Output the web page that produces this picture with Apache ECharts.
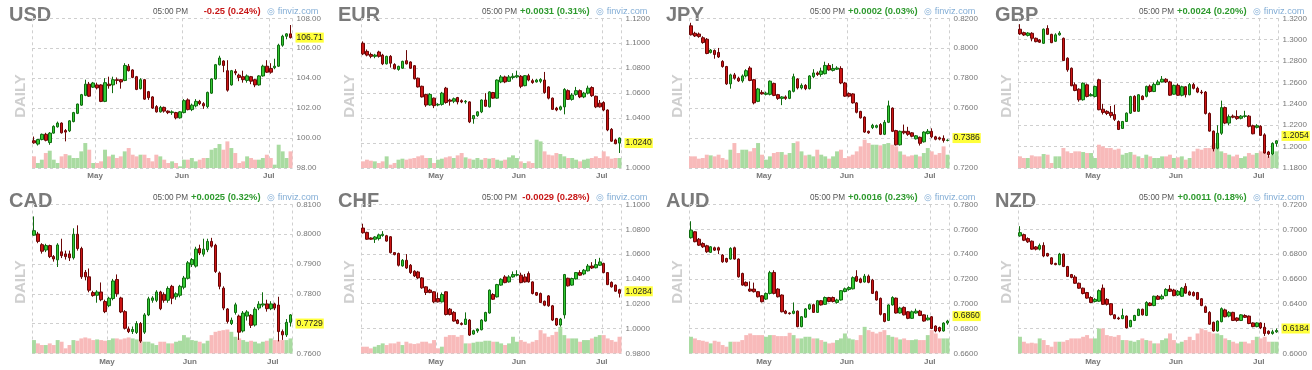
<!DOCTYPE html>
<html><head><meta charset="utf-8">
<script src="https://cdn.jsdelivr.net/npm/echarts@6/dist/echarts.min.js"></script>
<style>html,body{margin:0;padding:0;background:#fff}#c{width:1312px;height:370px}</style>
</head><body><div id="c"></div>
<script>
// ---------- categories (trading days, MM-DD) ----------
const datesUSD = ['04-08','04-11','04-12','04-13','04-14','04-15','04-18','04-19','04-20','04-21','04-22','04-25','04-26','04-27','04-28','04-29',
'05-02','05-03','05-04','05-05','05-06','05-09','05-10','05-11','05-12','05-13','05-16','05-17','05-18','05-19','05-20','05-23','05-24','05-25','05-26','05-27','05-30','05-31',
'06-01','06-02','06-03','06-06','06-07','06-08','06-09','06-10','06-13','06-14','06-15','06-16','06-17','06-20','06-21','06-22','06-23','06-24','06-27','06-28','06-29','06-30',
'07-01','07-04','07-05','07-06','07-07','07-08'];
const datesFX = ['04-04','04-05','04-06','04-07','04-08','04-11','04-12','04-13','04-14','04-18','04-19','04-20','04-21','04-22','04-25','04-26','04-27','04-28','04-29',
'05-02','05-03','05-04','05-05','05-06','05-09','05-10','05-11','05-12','05-13','05-16','05-17','05-18','05-19','05-20','05-23','05-24','05-25','05-26','05-27','05-31',
'06-01','06-02','06-03','06-06','06-07','06-08','06-09','06-10','06-13','06-14','06-15','06-16','06-17','06-21','06-22','06-23','06-24','06-27','06-28','06-29','06-30',
'07-01','07-05','07-06','07-07','07-08'];
const monthNames = {'05':'May','06':'Jun','07':'Jul'};

// ---------- candles: [open, close, low, high] ----------
const usdCandles = [[99.82,99.68,99.62,100.10],[99.60,99.90,99.50,99.95],[99.90,100.25,99.85,100.30],[100.25,99.85,99.78,100.35],[99.70,100.33,99.55,100.40],[100.33,100.78,100.30,100.85],[100.75,101.00,100.70,101.10],[101.00,100.35,100.30,101.05],[100.50,100.40,99.78,100.60],[100.48,101.15,100.40,101.20],
[101.10,101.70,101.05,101.75],[101.65,102.27,101.60,102.30],[102.20,102.90,102.15,102.95],[102.85,103.60,102.80,103.90],[103.60,102.80,102.75,103.75],[103.40,103.68,103.35,103.75],[103.55,103.35,103.25,103.70],[103.55,102.45,102.40,103.60],[102.45,103.70,102.40,104.00],[103.60,103.50,103.30,104.10],
[103.55,103.90,103.00,104.10],[103.90,103.85,103.60,104.05],[103.90,103.75,103.30,103.95],[103.85,104.85,103.80,105.00],[104.80,104.50,104.45,104.95],[104.55,104.05,104.00,104.60],[104.10,103.25,103.20,104.15],[103.30,103.90,103.25,104.00],[103.90,102.60,102.55,103.95],[103.10,102.70,102.55,103.15],
[102.75,102.00,101.95,102.80],[102.10,101.75,101.70,102.20],[101.75,102.05,101.70,102.15],[102.05,101.80,101.70,102.10],[101.80,101.70,101.60,101.85],[101.70,101.75,101.55,101.85],[101.70,101.35,101.25,101.75],[101.35,101.75,101.30,101.80],[101.70,102.50,101.65,102.60],[102.55,101.90,101.85,102.65],
[101.90,102.20,101.80,102.30],[102.15,102.45,102.05,102.60],[102.45,102.30,102.20,102.55],[102.30,102.15,101.95,102.40],[102.10,103.05,102.00,103.10],[103.00,103.95,102.95,104.00],[103.95,104.90,103.90,104.95],[104.90,105.35,104.85,105.50],[105.15,104.85,104.40,105.20],[104.50,103.20,103.10,105.20],
[103.55,104.50,103.50,104.55],[104.45,104.35,104.20,104.60],[104.20,104.05,103.80,104.30],[104.10,103.90,103.70,104.50],[103.85,104.15,103.70,104.25],[104.10,103.80,103.60,104.15],[103.90,103.55,103.40,103.95],[103.55,104.15,103.50,104.20],[104.15,104.80,104.10,104.90],[104.80,104.40,104.35,105.20],
[104.65,104.40,104.30,105.00],[104.70,104.80,104.60,105.30],[104.80,106.20,104.75,106.30],[106.20,106.80,106.10,106.90],[106.80,106.96,106.60,107.00],[106.96,106.71,106.65,107.55]];
const eurCandles = [[1.1000,1.0915,1.0905,1.1015],[1.0935,1.0905,1.0895,1.0950],[1.0910,1.0895,1.0880,1.0925],[1.0895,1.0905,1.0880,1.0915],[1.0930,1.0895,1.0885,1.0940],[1.0905,1.0835,1.0825,1.0915],[1.0835,1.0895,1.0830,1.0900],[1.0895,1.0840,1.0805,1.0905],[1.0830,1.0795,1.0790,1.0840],[1.0790,1.0815,1.0780,1.0820],
[1.0800,1.0855,1.0795,1.0860],[1.0860,1.0835,1.0830,1.0945],[1.0850,1.0800,1.0795,1.0855],[1.0820,1.0715,1.0710,1.0825],[1.0720,1.0650,1.0645,1.0725],[1.0655,1.0570,1.0565,1.0660],[1.0590,1.0505,1.0490,1.0595],[1.0505,1.0590,1.0500,1.0600],[1.0560,1.0500,1.0480,1.0565],[1.0505,1.0510,1.0495,1.0520],
[1.0510,1.0600,1.0500,1.0610],[1.0640,1.0525,1.0515,1.0650],[1.0545,1.0535,1.0500,1.0555],[1.0535,1.0555,1.0520,1.0565],[1.0565,1.0530,1.0510,1.0570],[1.0540,1.0530,1.0520,1.0550],[1.0530,1.0535,1.0515,1.0545],[1.0530,1.0370,1.0360,1.0535],[1.0395,1.0420,1.0355,1.0425],[1.0420,1.0450,1.0410,1.0455],
[1.0450,1.0545,1.0440,1.0550],[1.0545,1.0495,1.0490,1.0600],[1.0490,1.0610,1.0485,1.0615],[1.0605,1.0560,1.0555,1.0610],[1.0560,1.0705,1.0555,1.0710],[1.0690,1.0730,1.0680,1.0745],[1.0730,1.0690,1.0680,1.0740],[1.0695,1.0730,1.0690,1.0745],[1.0725,1.0735,1.0710,1.0760],[1.0730,1.0740,1.0720,1.0780],
[1.0735,1.0655,1.0640,1.0745],[1.0660,1.0740,1.0655,1.0745],[1.0740,1.0705,1.0695,1.0755],[1.0700,1.0685,1.0675,1.0715],[1.0690,1.0705,1.0685,1.0715],[1.0695,1.0710,1.0680,1.0720],[1.0705,1.0605,1.0595,1.0770],[1.0650,1.0560,1.0550,1.0655],[1.0560,1.0470,1.0465,1.0565],[1.0480,1.0465,1.0455,1.0490],
[1.0470,1.0490,1.0460,1.0500],[1.0490,1.0630,1.0430,1.0640],[1.0620,1.0550,1.0545,1.0630],[1.0550,1.0585,1.0540,1.0600],[1.0590,1.0620,1.0580,1.0650],[1.0620,1.0570,1.0560,1.0630],[1.0570,1.0600,1.0560,1.0610],[1.0600,1.0640,1.0590,1.0660],[1.0645,1.0580,1.0570,1.0655],[1.0575,1.0490,1.0480,1.0580],
[1.0520,1.0490,1.0485,1.0545],[1.0525,1.0465,1.0455,1.0535],[1.0465,1.0305,1.0295,1.0470],[1.0310,1.0215,1.0210,1.0320],[1.0225,1.0195,1.0190,1.0235],[1.0200,1.0240,1.0120,1.0245]];
const jpyCandles = [[0.8150,0.8090,0.8085,0.8170],[0.8100,0.8082,0.8075,0.8110],[0.8095,0.8078,0.8070,0.8105],[0.8070,0.8038,0.8030,0.8080],[0.8060,0.7965,0.7960,0.8068],[0.7972,0.7988,0.7965,0.7995],[0.7985,0.7958,0.7930,0.7992],[0.7972,0.7942,0.7935,0.8002],[0.7912,0.7878,0.7870,0.7920],[0.7878,0.7762,0.7755,0.7882],
[0.7762,0.7822,0.7730,0.7830],[0.7822,0.7800,0.7790,0.7835],[0.7800,0.7782,0.7775,0.7810],[0.7782,0.7815,0.7770,0.7825],[0.7815,0.7850,0.7805,0.7860],[0.7868,0.7785,0.7780,0.7880],[0.7790,0.7635,0.7625,0.7795],[0.7645,0.7728,0.7640,0.7735],[0.7705,0.7695,0.7690,0.7720],[0.7692,0.7700,0.7685,0.7710],
[0.7692,0.7780,0.7685,0.7785],[0.7765,0.7685,0.7680,0.7770],[0.7690,0.7665,0.7655,0.7695],[0.7665,0.7675,0.7620,0.7680],[0.7675,0.7665,0.7655,0.7685],[0.7665,0.7715,0.7660,0.7720],[0.7712,0.7810,0.7705,0.7830],[0.7795,0.7735,0.7725,0.7800],[0.7735,0.7752,0.7725,0.7765],[0.7752,0.7730,0.7720,0.7760],
[0.7730,0.7815,0.7725,0.7820],[0.7810,0.7835,0.7800,0.7860],[0.7835,0.7825,0.7815,0.7845],[0.7825,0.7848,0.7810,0.7870],[0.7830,0.7885,0.7825,0.7910],[0.7885,0.7855,0.7850,0.7900],[0.7852,0.7865,0.7845,0.7895],[0.7860,0.7868,0.7855,0.7880],[0.7865,0.7768,0.7760,0.7880],[0.7768,0.7680,0.7675,0.7775],
[0.7698,0.7680,0.7672,0.7705],[0.7695,0.7635,0.7630,0.7700],[0.7635,0.7572,0.7565,0.7640],[0.7578,0.7535,0.7530,0.7582],[0.7540,0.7440,0.7435,0.7545],[0.7445,0.7435,0.7428,0.7450],[0.7470,0.7485,0.7460,0.7495],[0.7472,0.7483,0.7465,0.7490],[0.7490,0.7425,0.7420,0.7500],[0.7425,0.7505,0.7420,0.7520],
[0.7505,0.7615,0.7500,0.7650],[0.7600,0.7445,0.7440,0.7605],[0.7450,0.7355,0.7350,0.7455],[0.7355,0.7445,0.7350,0.7450],[0.7445,0.7435,0.7425,0.7490],[0.7445,0.7425,0.7415,0.7475],[0.7435,0.7412,0.7405,0.7440],[0.7395,0.7415,0.7390,0.7420],[0.7405,0.7365,0.7350,0.7410],[0.7375,0.7440,0.7370,0.7445],
[0.7430,0.7445,0.7425,0.7460],[0.7445,0.7408,0.7400,0.7465],[0.7408,0.7392,0.7385,0.7415],[0.7402,0.7393,0.7385,0.7410],[0.7398,0.7384,0.7370,0.7418],[0.7384,0.7386,0.7378,0.7392]];
const gbpCandles = [[1.3098,1.3054,1.3045,1.3145],[1.3066,1.3044,1.3035,1.3075],[1.3040,1.3062,1.3030,1.3070],[1.3060,1.3013,1.2985,1.3070],[1.3013,1.2982,1.2975,1.3020],[1.2998,1.2976,1.2970,1.3005],[1.2966,1.3098,1.2960,1.3105],[1.3105,1.3050,1.3045,1.3135],[1.3050,1.2972,1.2968,1.3055],[1.2985,1.3045,1.2978,1.3060],
[1.3045,1.3062,1.3038,1.3080],[1.3013,1.2805,1.2800,1.3020],[1.2827,1.2718,1.2700,1.2835],[1.2733,1.2569,1.2565,1.2740],[1.2578,1.2525,1.2518,1.2600],[1.2537,1.2438,1.2420,1.2545],[1.2438,1.2593,1.2430,1.2600],[1.2578,1.2469,1.2460,1.2590],[1.2475,1.2486,1.2470,1.2500],[1.2469,1.2563,1.2460,1.2570],
[1.2625,1.2345,1.2340,1.2635],[1.2350,1.2320,1.2300,1.2400],[1.2330,1.2310,1.2295,1.2340],[1.2320,1.2290,1.2270,1.2380],[1.2300,1.2255,1.2240,1.2390],[1.2235,1.2160,1.2155,1.2245],[1.2170,1.2235,1.2165,1.2240],[1.2235,1.2313,1.2230,1.2320],[1.2313,1.2468,1.2305,1.2475],[1.2470,1.2330,1.2325,1.2480],
[1.2330,1.2485,1.2325,1.2490],[1.2472,1.2440,1.2435,1.2480],[1.2470,1.2563,1.2460,1.2570],[1.2565,1.2515,1.2505,1.2580],[1.2515,1.2582,1.2510,1.2600],[1.2580,1.2605,1.2575,1.2625],[1.2605,1.2630,1.2600,1.2660],[1.2630,1.2605,1.2595,1.2640],[1.2605,1.2481,1.2475,1.2615],[1.2490,1.2573,1.2485,1.2580],
[1.2573,1.2480,1.2475,1.2590],[1.2480,1.2560,1.2470,1.2570],[1.2560,1.2485,1.2460,1.2565],[1.2485,1.2580,1.2480,1.2595],[1.2580,1.2545,1.2535,1.2595],[1.2545,1.2510,1.2500,1.2560],[1.2510,1.2505,1.2490,1.2530],[1.2510,1.2310,1.2300,1.2520],[1.2310,1.2145,1.2140,1.2320],[1.2145,1.1980,1.1955,1.2150],
[1.1985,1.2125,1.1975,1.2200],[1.2125,1.2365,1.2110,1.2430],[1.2365,1.2220,1.2210,1.2375],[1.2220,1.2280,1.2200,1.2300],[1.2285,1.2275,1.2265,1.2300],[1.2282,1.2262,1.2250,1.2340],[1.2265,1.2285,1.2255,1.2295],[1.2282,1.2288,1.2270,1.2335],[1.2285,1.2190,1.2180,1.2295],[1.2195,1.2120,1.2115,1.2205],
[1.2180,1.2195,1.2170,1.2210],[1.2190,1.2105,1.2100,1.2200],[1.2110,1.1940,1.1935,1.2125],[1.1950,1.1925,1.1895,1.1960],[1.1930,1.2030,1.1920,1.2040],[1.2030,1.2054,1.2000,1.2060]];
const cadCandles = [[0.7997,0.8012,0.7995,0.8060],[0.8001,0.7976,0.7970,0.8008],[0.7965,0.7943,0.7935,0.7970],[0.7947,0.7962,0.7940,0.7968],[0.7962,0.7925,0.7920,0.7965],[0.7925,0.7917,0.7908,0.7930],[0.7914,0.7964,0.7890,0.7970],[0.7941,0.7928,0.7920,0.7985],[0.7934,0.7925,0.7915,0.7945],[0.7934,0.7921,0.7910,0.7945],
[0.7921,0.8000,0.7915,0.8020],[0.8000,0.7952,0.7945,0.8030],[0.7952,0.7857,0.7850,0.7958],[0.7872,0.7857,0.7845,0.7880],[0.7857,0.7812,0.7805,0.7885],[0.7804,0.7794,0.7790,0.7810],[0.7795,0.7806,0.7770,0.7812],[0.7806,0.7780,0.7775,0.7838],[0.7774,0.7740,0.7735,0.7780],[0.7760,0.7785,0.7755,0.7790],
[0.7784,0.7843,0.7778,0.7850],[0.7848,0.7800,0.7790,0.7865],[0.7786,0.7739,0.7735,0.7790],[0.7740,0.7684,0.7680,0.7745],[0.7682,0.7673,0.7668,0.7690],[0.7673,0.7680,0.7665,0.7690],[0.7670,0.7700,0.7665,0.7708],[0.7700,0.7641,0.7635,0.7705],[0.7671,0.7729,0.7665,0.7735],[0.7729,0.7783,0.7725,0.7790],
[0.7778,0.7786,0.7770,0.7792],[0.7778,0.7806,0.7772,0.7812],[0.7806,0.7750,0.7745,0.7810],[0.7798,0.7778,0.7770,0.7805],[0.7778,0.7818,0.7770,0.7825],[0.7825,0.7785,0.7765,0.7830],[0.7790,0.7800,0.7780,0.7805],[0.7795,0.7825,0.7788,0.7830],[0.7822,0.7853,0.7815,0.7860],[0.7852,0.7904,0.7848,0.7910],
[0.7898,0.7915,0.7890,0.7920],[0.7893,0.7950,0.7888,0.7958],[0.7952,0.7937,0.7930,0.7965],[0.7933,0.7950,0.7925,0.7985],[0.7948,0.7976,0.7940,0.7985],[0.7976,0.7960,0.7955,0.7988],[0.7963,0.7875,0.7870,0.7968],[0.7870,0.7825,0.7815,0.7875],[0.7819,0.7752,0.7745,0.7825],[0.7749,0.7707,0.7700,0.7752],
[0.7700,0.7711,0.7695,0.7720],[0.7737,0.7763,0.7730,0.7770],[0.7725,0.7671,0.7645,0.7730],[0.7675,0.7735,0.7670,0.7742],[0.7725,0.7739,0.7710,0.7745],[0.7728,0.7694,0.7685,0.7732],[0.7695,0.7748,0.7690,0.7755],[0.7752,0.7765,0.7745,0.7775],[0.7762,0.7766,0.7755,0.7805],[0.7766,0.7750,0.7740,0.7780],
[0.7750,0.7766,0.7745,0.7775],[0.7766,0.7752,0.7745,0.7770],[0.7762,0.7673,0.7640,0.7790],[0.7673,0.7662,0.7645,0.7680],[0.7662,0.7704,0.7655,0.7715],[0.7704,0.7729,0.7690,0.7732]];
const chfCandles = [[1.0810,1.0772,1.0765,1.0845],[1.0775,1.0720,1.0715,1.0780],[1.0730,1.0720,1.0715,1.0735],[1.0720,1.0738,1.0690,1.0745],[1.0725,1.0755,1.0710,1.0765],[1.0750,1.0760,1.0740,1.0785],[1.0748,1.0705,1.0700,1.0755],[1.0740,1.0612,1.0605,1.0745],[1.0612,1.0596,1.0590,1.0615],[1.0605,1.0510,1.0500,1.0612],
[1.0505,1.0550,1.0498,1.0560],[1.0550,1.0488,1.0480,1.0600],[1.0510,1.0451,1.0440,1.0520],[1.0462,1.0424,1.0415,1.0470],[1.0456,1.0408,1.0400,1.0465],[1.0408,1.0328,1.0320,1.0415],[1.0336,1.0290,1.0270,1.0340],[1.0310,1.0290,1.0285,1.0320],[1.0296,1.0215,1.0205,1.0300],[1.0242,1.0215,1.0210,1.0290],
[1.0215,1.0274,1.0210,1.0290],[1.0296,1.0113,1.0105,1.0300],[1.0156,1.0113,1.0105,1.0165],[1.0130,1.0060,1.0055,1.0140],[1.0068,1.0041,1.0035,1.0075],[1.0041,1.0033,1.0025,1.0050],[1.0033,1.0076,1.0028,1.0130],[1.0068,0.9947,0.9940,1.0075],[0.9955,0.9982,0.9950,0.9990],[0.9980,0.9995,0.9965,1.0000],
[0.9990,1.0068,0.9985,1.0075],[1.0060,1.0129,1.0055,1.0135],[1.0125,1.0309,1.0120,1.0315],[1.0274,1.0236,1.0230,1.0285],[1.0255,1.0354,1.0250,1.0360],[1.0350,1.0397,1.0345,1.0405],[1.0416,1.0370,1.0365,1.0430],[1.0376,1.0416,1.0370,1.0430],[1.0416,1.0435,1.0410,1.0460],[1.0430,1.0435,1.0420,1.0470],
[1.0430,1.0370,1.0365,1.0450],[1.0416,1.0376,1.0370,1.0440],[1.0443,1.0376,1.0370,1.0460],[1.0376,1.0282,1.0275,1.0380],[1.0290,1.0269,1.0262,1.0295],[1.0282,1.0210,1.0205,1.0290],[1.0220,1.0188,1.0180,1.0225],[1.0263,1.0183,1.0175,1.0270],[1.0183,1.0068,1.0060,1.0190],[1.0081,1.0028,1.0020,1.0085],
[1.0028,1.0076,1.0015,1.0085],[1.0110,1.0435,1.0080,1.0440],[1.0405,1.0344,1.0338,1.0410],[1.0350,1.0403,1.0345,1.0410],[1.0400,1.0451,1.0395,1.0455],[1.0451,1.0430,1.0425,1.0470],[1.0440,1.0470,1.0430,1.0480],[1.0465,1.0504,1.0460,1.0520],[1.0504,1.0488,1.0480,1.0535],[1.0490,1.0515,1.0485,1.0560],
[1.0510,1.0537,1.0505,1.0570],[1.0525,1.0451,1.0445,1.0530],[1.0451,1.0354,1.0350,1.0455],[1.0372,1.0336,1.0330,1.0380],[1.0350,1.0301,1.0295,1.0355],[1.0313,1.0284,1.0250,1.0320]];
const audCandles = [[0.7532,0.7593,0.7525,0.7665],[0.7580,0.7500,0.7495,0.7585],[0.7520,0.7472,0.7465,0.7530],[0.7485,0.7459,0.7450,0.7495],[0.7467,0.7419,0.7410,0.7475],[0.7414,0.7459,0.7410,0.7465],[0.7451,0.7432,0.7425,0.7460],[0.7451,0.7432,0.7400,0.7460],[0.7392,0.7338,0.7330,0.7400],[0.7365,0.7338,0.7330,0.7370],
[0.7360,0.7446,0.7355,0.7455],[0.7451,0.7360,0.7355,0.7460],[0.7360,0.7217,0.7210,0.7365],[0.7244,0.7150,0.7145,0.7250],[0.7172,0.7145,0.7140,0.7180],[0.7118,0.7102,0.7095,0.7180],[0.7118,0.7097,0.7090,0.7170],[0.7097,0.7056,0.7050,0.7100],[0.7064,0.7016,0.7010,0.7070],[0.7037,0.7083,0.7030,0.7090],
[0.7083,0.7250,0.7075,0.7265],[0.7252,0.7083,0.7075,0.7270],[0.7118,0.7056,0.7050,0.7125],[0.7070,0.6935,0.6930,0.7075],[0.6940,0.6922,0.6915,0.6950],[0.6925,0.6920,0.6912,0.6930],[0.6922,0.6940,0.6915,0.7010],[0.6940,0.6815,0.6810,0.6945],[0.6815,0.6895,0.6810,0.6900],[0.6891,0.6958,0.6885,0.6965],
[0.6958,0.6992,0.6950,0.7000],[0.6992,0.6930,0.6925,0.7000],[0.6930,0.7024,0.6925,0.7030],[0.7024,0.6990,0.6985,0.7030],[0.6995,0.7050,0.6990,0.7058],[0.7050,0.7018,0.7012,0.7055],[0.7050,0.7018,0.7010,0.7058],[0.7010,0.7030,0.7000,0.7040],[0.7030,0.7105,0.7025,0.7110],[0.7098,0.7120,0.7092,0.7130],
[0.7115,0.7130,0.7105,0.7140],[0.7120,0.7210,0.7115,0.7220],[0.7220,0.7182,0.7175,0.7270],[0.7200,0.7172,0.7165,0.7210],[0.7175,0.7222,0.7170,0.7240],[0.7222,0.7172,0.7165,0.7235],[0.7190,0.7083,0.7078,0.7200],[0.7097,0.7030,0.7025,0.7105],[0.7043,0.6914,0.6905,0.7050],[0.6920,0.6857,0.6850,0.6925],
[0.6865,0.6990,0.6860,0.6995],[0.6990,0.7050,0.6985,0.7060],[0.7045,0.6925,0.6920,0.7050],[0.6925,0.6965,0.6920,0.6975],[0.6970,0.6910,0.6905,0.6978],[0.6935,0.6882,0.6875,0.6940],[0.6882,0.6935,0.6878,0.6945],[0.6925,0.6940,0.6920,0.6960],[0.6940,0.6905,0.6900,0.6950],[0.6910,0.6860,0.6855,0.6915],
[0.6870,0.6885,0.6865,0.6910],[0.6895,0.6800,0.6795,0.6900],[0.6820,0.6780,0.6770,0.6825],[0.6808,0.6780,0.6770,0.6815],[0.6780,0.6844,0.6775,0.6850],[0.6844,0.6860,0.6830,0.6870]];
const nzdCandles = [[0.6947,0.6973,0.6940,0.7025],[0.6957,0.6912,0.6905,0.6965],[0.6925,0.6899,0.6890,0.6935],[0.6904,0.6840,0.6835,0.6910],[0.6858,0.6840,0.6830,0.6865],[0.6840,0.6870,0.6830,0.6885],[0.6870,0.6785,0.6775,0.6895],[0.6805,0.6785,0.6780,0.6810],[0.6770,0.6720,0.6715,0.6775],[0.6725,0.6715,0.6710,0.6730],
[0.6715,0.6800,0.6710,0.6810],[0.6800,0.6700,0.6695,0.6805],[0.6700,0.6620,0.6615,0.6705],[0.6635,0.6612,0.6605,0.6640],[0.6615,0.6565,0.6560,0.6630],[0.6565,0.6525,0.6520,0.6570],[0.6525,0.6482,0.6475,0.6530],[0.6490,0.6445,0.6440,0.6495],[0.6450,0.6410,0.6405,0.6460],[0.6418,0.6435,0.6410,0.6445],
[0.6420,0.6505,0.6415,0.6515],[0.6525,0.6395,0.6390,0.6555],[0.6435,0.6395,0.6385,0.6445],[0.6400,0.6312,0.6305,0.6405],[0.6310,0.6280,0.6275,0.6315],[0.6285,0.6278,0.6270,0.6295],[0.6280,0.6305,0.6275,0.6360],[0.6300,0.6205,0.6200,0.6305],[0.6215,0.6265,0.6210,0.6270],[0.6265,0.6305,0.6260,0.6310],
[0.6305,0.6355,0.6300,0.6360],[0.6355,0.6310,0.6305,0.6360],[0.6305,0.6410,0.6300,0.6420],[0.6405,0.6385,0.6380,0.6412],[0.6385,0.6460,0.6380,0.6465],[0.6460,0.6435,0.6430,0.6470],[0.6440,0.6460,0.6432,0.6475],[0.6465,0.6515,0.6460,0.6525],[0.6518,0.6500,0.6495,0.6550],[0.6510,0.6465,0.6460,0.6520],
[0.6470,0.6500,0.6462,0.6510],[0.6460,0.6525,0.6455,0.6535],[0.6540,0.6485,0.6480,0.6565],[0.6495,0.6470,0.6465,0.6505],[0.6490,0.6465,0.6458,0.6500],[0.6490,0.6435,0.6430,0.6495],[0.6440,0.6385,0.6380,0.6445],[0.6375,0.6330,0.6325,0.6385],[0.6330,0.6235,0.6230,0.6340],[0.6250,0.6180,0.6175,0.6255],
[0.6180,0.6260,0.6175,0.6265],[0.6255,0.6360,0.6250,0.6370],[0.6350,0.6295,0.6290,0.6360],[0.6300,0.6330,0.6290,0.6340],[0.6330,0.6265,0.6260,0.6335],[0.6285,0.6265,0.6255,0.6290],[0.6265,0.6310,0.6260,0.6315],[0.6305,0.6290,0.6285,0.6315],[0.6300,0.6240,0.6235,0.6305],[0.6245,0.6215,0.6210,0.6250],
[0.6215,0.6245,0.6210,0.6250],[0.6245,0.6205,0.6195,0.6250],[0.6210,0.6160,0.6140,0.6245],[0.6178,0.6160,0.6150,0.6185],[0.6160,0.6173,0.6150,0.6190],[0.6173,0.6184,0.6165,0.6200]];

// ---------- relative volume ----------
const usdVolume = [35,15,25,45,52,25,15,35,42,38,30,30,50,75,55,15,15,20,55,35,40,30,35,50,60,40,35,40,40,30,20,40,35,25,15,20,15,5,25,25,30,20,25,30,30,55,60,72,55,80,60,45,15,20,35,30,25,25,30,40,30,10,70,50,30,50];
const eurVolume = [20,25,22,20,15,20,35,10,15,25,28,25,28,30,35,38,30,30,15,25,28,32,35,30,38,45,32,28,25,30,25,30,28,30,25,22,25,32,38,30,20,15,20,15,85,80,50,40,38,45,42,35,30,30,25,20,25,28,30,35,30,50,35,28,30,30];
const jpyVolume = [35,35,28,30,40,38,35,40,30,25,55,75,45,55,55,50,60,75,40,25,35,45,48,48,40,45,75,80,50,38,40,35,55,40,35,28,35,50,55,30,35,40,50,65,85,75,70,70,68,72,75,70,65,50,40,35,38,40,35,45,60,50,40,45,65,40];
const gbpVolume = [35,30,30,38,35,35,42,40,15,35,35,60,50,45,50,50,48,45,45,30,70,65,60,60,55,58,40,45,48,40,35,30,40,35,30,30,35,35,40,30,32,35,25,30,50,58,55,60,60,70,75,50,45,40,35,40,30,35,45,40,45,50,45,35,40,50];
const cadVolume = [40,30,25,25,30,25,40,35,15,25,40,38,45,48,45,40,42,40,38,40,45,45,42,45,48,45,42,38,35,35,30,25,35,35,30,30,35,38,55,48,40,38,35,30,38,55,65,68,70,72,65,50,45,40,35,38,35,30,35,38,45,40,40,40,40,45];
const chfVolume = [20,20,15,20,25,30,25,30,30,35,25,35,30,28,30,35,35,30,40,15,20,50,55,55,50,55,30,30,32,35,35,38,38,35,35,30,25,30,50,35,40,35,30,35,40,70,60,50,55,65,80,55,45,45,45,35,40,40,45,50,55,55,45,40,35,50];
const audVolume = [50,45,40,38,35,30,38,35,25,20,35,35,35,40,55,60,55,55,55,50,55,55,52,52,52,62,55,45,45,50,50,45,45,40,35,30,32,40,45,60,45,42,40,55,80,70,65,60,65,70,55,50,48,42,45,40,40,42,40,40,55,70,60,45,45,45];
const nzdVolume = [50,35,30,32,30,45,40,25,20,35,35,35,40,45,45,45,50,55,45,45,75,75,55,52,50,55,40,40,38,35,40,45,40,38,30,30,40,45,60,40,30,35,40,50,40,60,75,70,65,60,60,55,45,40,35,30,35,35,30,40,50,45,50,35,35,35];

// ---------- panel texts / axes ----------
const panelNames = ['USD','EUR','JPY','GBP','CAD','CHF','AUD','NZD'];
const timeText = '05:00 PM';
const changeTexts = ['-0.25 (0.24%)','+0.0031 (0.31%)','+0.0002 (0.03%)','+0.0024 (0.20%)','+0.0025 (0.32%)','-0.0029 (0.28%)','+0.0016 (0.23%)','+0.0011 (0.18%)'];
const changeUp = [false,true,true,true,true,false,true,true];
const yMin = [98,1.00,0.72,1.18,0.76,0.98,0.66,0.60];
const yMax = [108,1.12,0.82,1.32,0.81,1.10,0.78,0.72];
const yStep = [2,0.02,0.02,0.02,0.01,0.02,0.02,0.02];
const decimals = [2,4,4,4,4,4,4,4];

const candles = [usdCandles,eurCandles,jpyCandles,gbpCandles,cadCandles,chfCandles,audCandles,nzdCandles];
const volumes = [usdVolume,eurVolume,jpyVolume,gbpVolume,cadVolume,chfVolume,audVolume,nzdVolume];

// ---------- layout ----------
const plotLefts = [32, 361, 689, 1018];
const rowTops = [18.3, 204.5];
const rowHeights = [149.7, 148.8];
const plotW = 260.5;
const FONT = '"Liberation Sans", Arial, sans-serif';
const gridColor = '#cfcfcf';

const grids=[], xAxes=[], yAxes=[], series=[], graphics=[];
for (let k=0;k<8;k++){
  const col=k%4, row=Math.floor(k/4);
  const L=plotLefts[col], T=rowTops[row];
  const dates = k===0 ? datesUSD : datesFX;
  const isMonthStart = (idx)=> idx>0 && dates[idx].slice(0,2)!==dates[idx-1].slice(0,2);
  grids.push({left:L, top:T, width:plotW, height:rowHeights[row]});
  xAxes.push({
    gridIndex:k, type:'category', data:dates, boundaryGap:true,
    axisLine:{show:false}, axisTick:{show:false},
    axisLabel:{interval:(i)=>isMonthStart(i), formatter:(v)=>monthNames[v.slice(0,2)]||'',
      fontSize:8, fontWeight:'bold', color:'#777', margin:4, fontFamily:FONT, padding:[0,4,0,0]},
    splitLine:{show:true, interval:(i)=>i===0||isMonthStart(i), lineStyle:{color:gridColor, type:[3,3], width:1}}
  });
  const d=decimals[k];
  yAxes.push({
    gridIndex:k, type:'value', position:'right', min:yMin[k], max:yMax[k], interval:yStep[k],
    axisLine:{show:false}, axisTick:{show:false},
    axisLabel:{fontSize:8, color:'#777', margin:4, fontFamily:FONT, formatter:(v)=>v.toFixed(d)},
    splitLine:{show:true, lineStyle:{color:gridColor, type:[3,3], width:1}}
  });
  yAxes.push({gridIndex:k, type:'value', min:0, max:450, show:false, splitLine:{show:false}});
  const cs=candles[k];
  series.push({
    type:'bar', xAxisIndex:k, yAxisIndex:2*k+1, barWidth:'100%', barCategoryGap:'0%', animation:false, silent:true,
    data:volumes[k].map((v,i)=>({value:v, itemStyle:{color: cs[i][1]>=cs[i][0] ? '#a9dba1' : '#f8baba'}}))
  });
  const last=cs[cs.length-1][1];
  series.push({
    type:'candlestick', xAxisIndex:k, yAxisIndex:2*k, barWidth:3, animation:false, silent:true,
    data:cs,
    itemStyle:{color:'#34c934', color0:'#cc1414', borderColor:'#0f6b0f', borderColor0:'#6a0606', borderWidth:1},
    markLine:{silent:true, symbol:['none','none'], animation:false,
      data:[{yAxis:last}],
      lineStyle:{color:'rgba(0,0,0,0)', width:0, type:'solid'},
      label:{show:true, position:'end', distance:3, formatter:()=>last.toFixed(d), backgroundColor:'#ffff3a',
        color:'#222', opacity:1, fontSize:8.6, fontFamily:FONT, padding:[1,1,0,1]}}
  });
  const yOff = row===0 ? 0 : 186;
  graphics.push({type:'text', x:L-23, y:15.5+yOff, style:{text:panelNames[k], fill:'#7a7a7a', fontSize:20, fontWeight:'bold', fontFamily:FONT, align:'left', verticalAlign:'middle'}});
  graphics.push({type:'text', x:L-11, y:96+yOff, rotation:Math.PI/2, style:{text:'DAILY', fill:'#cfcfcf', fontSize:15, fontWeight:'bold', fontFamily:FONT, align:'center', verticalAlign:'middle'}});
  graphics.push({type:'text', x:L+121, y:11.5+yOff, style:{text:timeText, fill:'#555', fontSize:8.2, fontFamily:FONT, align:'left', verticalAlign:'middle'}});
  graphics.push({type:'text', x:L+228.5, y:11.5+yOff, style:{text:changeTexts[k], fill: changeUp[k] ? '#2e9a2e' : '#c81818', fontSize:9.4, fontWeight:'bold', fontFamily:FONT, align:'right', verticalAlign:'middle'}});
  graphics.push({type:'text', x:L+286.5, y:11.5+yOff, style:{text:'\u25CE finviz.com', fill:'#84aed6', fontSize:9.2, fontFamily:FONT, align:'right', verticalAlign:'middle'}});
}

const chart = echarts.init(document.getElementById('c'), null, {renderer:'canvas'});
chart.setOption({
  animation:false, backgroundColor:'#fff',
  grid:grids, xAxis:xAxes, yAxis:yAxes, series:series, graphic:graphics
});
</script></body></html>
